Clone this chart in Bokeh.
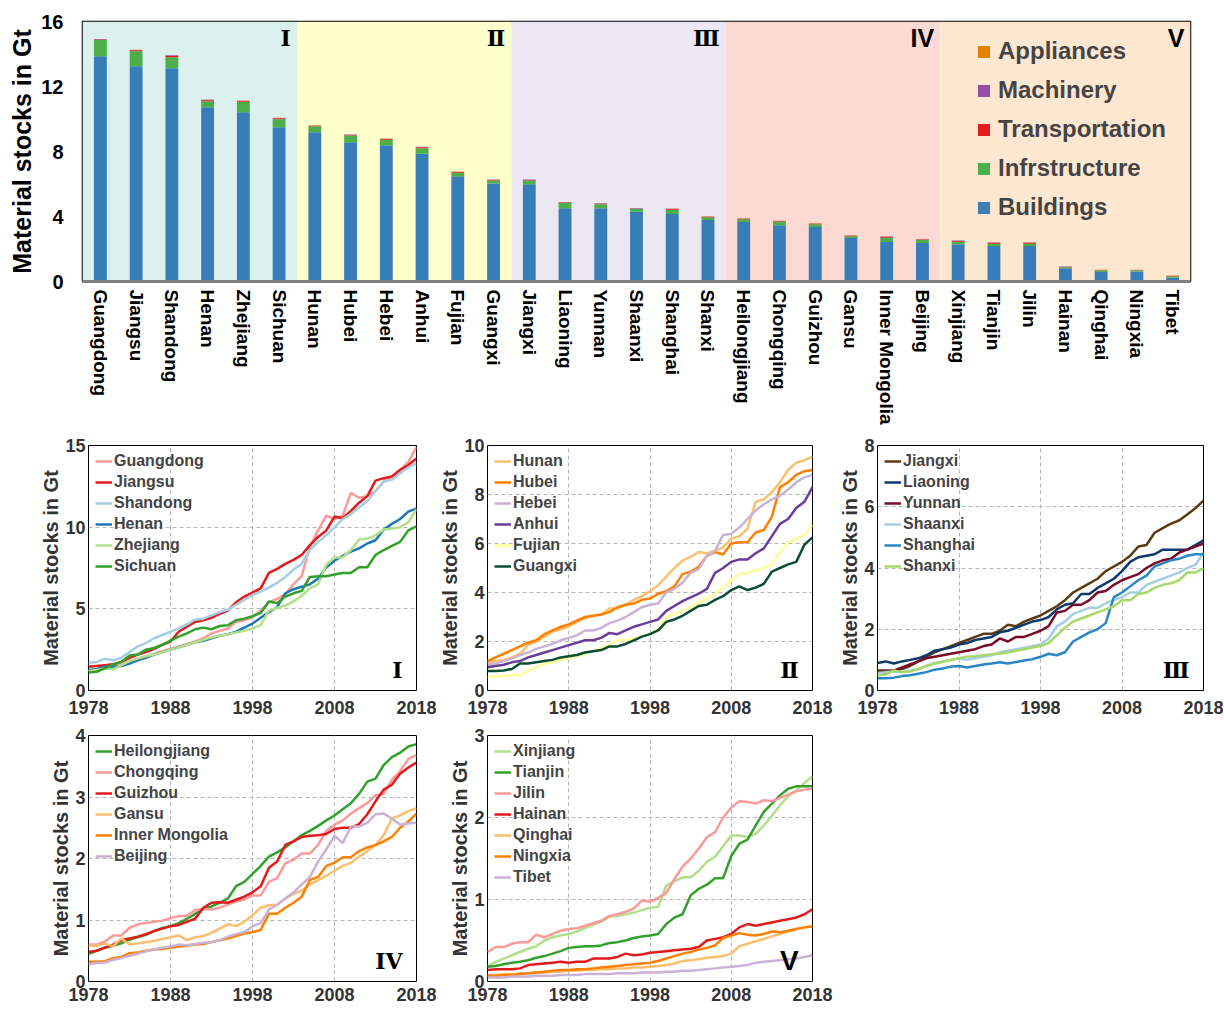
from bokeh.plotting import figure
from bokeh.models import (ColumnDataSource, FactorRange, Legend, LegendItem,
                          BoxAnnotation, Label, FixedTicker, Range1d)
from bokeh.layouts import column, row
from bokeh.embed import file_html
from bokeh.resources import INLINE

# ---------------- bar chart data ----------------
provinces = ["Guangdong", "Jiangsu", "Shandong", "Henan", "Zhejiang", "Sichuan",
             "Hunan", "Hubei", "Hebei", "Anhui", "Fujian", "Guangxi",
             "Jiangxi", "Liaoning", "Yunnan", "Shaanxi", "Shanghai", "Shanxi",
             "Heilongjiang", "Chongqing", "Guizhou", "Gansu", "Inner Mongolia", "Beijing",
             "Xinjiang", "Tianjin", "Jilin", "Hainan", "Qinghai", "Ningxia", "Tibet"]
buildings = [13.86, 13.25, 13.13, 10.73, 10.42, 9.50,
             9.19, 8.57, 8.39, 7.86, 6.48, 6.03,
             5.99, 4.51, 4.51, 4.30, 4.16, 3.79,
             3.66, 3.46, 3.35, 2.67, 2.43, 2.37,
             2.30, 2.18, 2.18, 0.82, 0.58, 0.62, 0.25]
infrastructure = [1.00, 0.92, 0.67, 0.37, 0.64, 0.49,
                  0.37, 0.41, 0.33, 0.34, 0.22, 0.19,
                  0.23, 0.33, 0.25, 0.17, 0.26, 0.16,
                  0.17, 0.22, 0.17, 0.11, 0.24, 0.18,
                  0.15, 0.15, 0.15, 0.06, 0.10, 0.06, 0.08]
transportation = [0.04, 0.06, 0.08, 0.06, 0.05, 0.05,
                  0.03, 0.04, 0.05, 0.06, 0.04, 0.03,
                  0.03, 0.03, 0.03, 0.03, 0.04, 0.03,
                  0.03, 0.03, 0.03, 0.03, 0.05, 0.03,
                  0.04, 0.04, 0.04, 0.02, 0.02, 0.02, 0.02]
machinery = [0.02, 0.02, 0.04, 0.03, 0.02, 0.02,
             0.01, 0.02, 0.02, 0.03, 0.02, 0.02,
             0.02, 0.02, 0.02, 0.02, 0.02, 0.02,
             0.02, 0.02, 0.02, 0.02, 0.05, 0.02,
             0.03, 0.03, 0.03, 0.02, 0.01, 0.01, 0.01]
appliances = [0.01] * 31
sectors = ["Buildings", "Infrstructure", "Transportation", "Machinery", "Appliances"]
sector_colors = ["#377eb8", "#4daf4a", "#e41a1c", "#984ea3", "#e38000"]
group_sizes = [6, 6, 6, 6, 7]
group_names = ["Ⅰ", "Ⅱ", "Ⅲ", "IV", "V"]
band_colors = ["#dcf0ee", "#ffffcc", "#ebe8f4", "#fdd9d3", "#fee7d0"]

# ---------------- line chart data ----------------
years = list(range(1978, 2019))

guangdong = [1.2, 1.3, 1.4, 1.45, 1.6, 1.8, 1.95, 2.1, 2.25, 2.4,
             2.55, 2.7, 2.85, 3.0, 3.2, 3.5, 3.65, 3.8, 4.2, 4.3,
             4.5, 4.9, 5.4, 5.6, 5.9, 6.5, 7.0, 8.8, 9.8, 10.7,
             10.5, 10.7, 12.1, 11.8, 11.9, 12.2, 12.8, 13.1, 13.5, 14.0,
             14.9]
jiangsu = [1.45, 1.5, 1.55, 1.6, 1.75, 2.0, 2.2, 2.35, 2.55, 2.8,
           3.0, 3.6, 3.9, 4.2, 4.3, 4.45, 4.7, 4.9, 5.4, 5.75,
           6.0, 6.25, 7.2, 7.45, 7.75, 8.0, 8.3, 8.9, 9.4, 9.8,
           10.65, 10.55, 11.0, 11.5, 11.9, 12.85, 13.0, 13.1, 13.5, 13.8,
           14.2]
shandong = [1.7, 1.75, 1.95, 1.85, 2.0, 2.35, 2.7, 2.9, 3.2, 3.4,
            3.6, 3.8, 4.05, 4.35, 4.4, 4.6, 4.8, 4.95, 5.25, 5.55,
            5.85, 6.05, 6.3, 6.6, 6.95, 7.4, 7.75, 8.6, 9.1, 9.5,
            10.0, 10.5, 10.8, 11.2, 11.6, 12.2, 12.8, 12.9, 13.3, 13.65,
            13.9]
henan = [1.25, 1.3, 1.45, 1.45, 1.5, 1.65, 1.85, 2.0, 2.2, 2.35,
         2.5, 2.65, 2.8, 2.95, 3.05, 3.2, 3.35, 3.45, 3.6, 3.85,
         4.1, 4.45, 4.8, 5.1, 5.95, 6.2, 6.35, 6.5, 6.85, 7.55,
         7.95, 8.25, 8.5, 8.7, 9.0, 9.2, 9.85, 10.2, 10.5, 10.95,
         11.15]
zhejiang = [1.2, 1.25, 1.35, 1.3, 1.55, 1.8, 1.95, 2.1, 2.2, 2.35,
            2.5, 2.65, 2.8, 2.95, 3.1, 3.25, 3.35, 3.45, 3.55, 3.65,
            3.8, 4.0, 4.9, 5.05, 5.2, 5.45, 5.8, 6.25, 6.5, 7.7,
            8.15, 8.15, 8.6, 9.25, 9.3, 9.5, 9.85, 9.9, 10.0, 10.3,
            11.1]
sichuan = [1.1, 1.15, 1.35, 1.6, 1.75, 2.15, 2.2, 2.5, 2.6, 2.8,
           3.05, 3.3, 3.5, 3.75, 3.85, 3.75, 3.95, 4.0, 4.3, 4.4,
           4.55, 4.75, 5.45, 5.35, 5.75, 5.95, 6.1, 6.95, 7.0, 7.0,
           7.1, 7.2, 7.2, 7.55, 7.55, 8.3, 8.6, 8.85, 9.1, 9.8,
           10.05]

hunan = [1.15, 1.2, 1.25, 1.35, 1.5, 1.85, 2.0, 2.2, 2.4, 2.5,
         2.6, 2.8, 2.95, 3.05, 3.1, 3.35, 3.35, 3.5, 3.7, 3.85,
         4.05, 4.3, 4.65, 5.0, 5.3, 5.45, 5.65, 5.6, 5.7, 5.85,
         6.2, 6.3, 6.6, 7.7, 7.8, 8.1, 8.5, 9.0, 9.3, 9.4,
         9.55]
hubei = [1.2, 1.35, 1.5, 1.65, 1.8, 1.95, 2.05, 2.3, 2.45, 2.6,
         2.7, 2.85, 3.0, 3.05, 3.1, 3.2, 3.4, 3.5, 3.55, 3.7,
         3.75, 3.95, 4.05, 4.25, 4.75, 4.85, 5.05, 5.5, 5.65, 5.55,
         6.0, 6.05, 6.05, 6.45, 6.55, 7.1, 8.3, 8.5, 8.8, 8.95,
         9.0]
hebei = [1.05, 1.1, 1.2, 1.3, 1.45, 1.55, 1.7, 1.8, 1.9, 2.05,
         2.15, 2.25, 2.45, 2.45, 2.55, 2.75, 2.85, 3.0, 3.2, 3.4,
         3.5, 3.55, 4.0, 4.15, 4.4, 4.8, 4.95, 5.5, 5.7, 6.35,
         6.4, 6.65, 7.0, 7.35, 7.6, 7.8, 7.95, 8.2, 8.5, 8.7,
         8.8]
anhui = [0.95, 1.0, 1.05, 1.15, 1.2, 1.35, 1.45, 1.55, 1.65, 1.75,
         1.85, 1.95, 2.05, 2.05, 2.15, 2.35, 2.3, 2.45, 2.6, 2.7,
         2.8, 2.9, 3.25, 3.45, 3.65, 3.8, 3.95, 4.15, 4.8, 5.0,
         5.25, 5.35, 5.35, 5.6, 5.8, 6.3, 6.8, 7.0, 7.45, 7.7,
         8.3]
fujian = [0.55, 0.58, 0.6, 0.62, 0.62, 0.8, 0.95, 1.1, 1.15, 1.25,
          1.3, 1.4, 1.5, 1.6, 1.75, 1.85, 2.05, 2.05, 2.1, 2.2,
          2.3, 2.5, 3.0, 3.1, 3.25, 3.4, 3.6, 3.75, 3.95, 4.2,
          4.5, 4.75, 4.8, 4.9, 5.0, 5.15, 5.65, 6.05, 6.2, 6.35,
          6.75]
guangxi = [0.8, 0.8, 0.82, 0.88, 1.1, 1.1, 1.15, 1.2, 1.25, 1.35,
           1.4, 1.45, 1.55, 1.6, 1.65, 1.8, 1.8, 1.9, 2.05, 2.2,
           2.3, 2.45, 2.8, 2.9, 3.05, 3.25, 3.45, 3.5, 3.7, 3.85,
           4.1, 4.25, 4.1, 4.2, 4.35, 4.85, 5.0, 5.15, 5.25, 5.95,
           6.25]

jiangxi = [0.65, 0.65, 0.65, 0.7, 0.8, 0.95, 1.1, 1.25, 1.35, 1.45,
           1.55, 1.65, 1.75, 1.85, 1.85, 1.95, 2.15, 2.1, 2.25, 2.35,
           2.45, 2.6, 2.75, 2.95, 3.2, 3.35, 3.5, 3.65, 3.9, 4.05,
           4.2, 4.4, 4.7, 4.75, 5.15, 5.3, 5.45, 5.55, 5.75, 5.95,
           6.2]
liaoning = [0.9, 0.95, 0.88, 0.95, 1.0, 1.05, 1.15, 1.3, 1.35, 1.4,
            1.5, 1.55, 1.65, 1.7, 1.75, 1.9, 1.95, 2.05, 2.15, 2.25,
            2.3, 2.4, 2.65, 2.8, 2.85, 3.15, 3.15, 3.35, 3.5, 3.65,
            3.9, 4.2, 4.35, 4.4, 4.45, 4.6, 4.6, 4.6, 4.6, 4.75,
            4.9]
yunnan = [0.55, 0.55, 0.65, 0.75, 0.85, 0.95, 1.05, 1.1, 1.15, 1.2,
          1.25, 1.3, 1.35, 1.45, 1.5, 1.7, 1.6, 1.75, 1.75, 1.85,
          1.95, 2.1, 2.55, 2.6, 2.8, 2.8, 2.95, 3.2, 3.25, 3.45,
          3.6, 3.7, 3.8, 4.0, 4.15, 4.25, 4.3, 4.5, 4.6, 4.7,
          4.8]
shaanxi = [0.55, 0.6, 0.62, 0.6, 0.65, 0.7, 0.8, 0.9, 0.95, 1.0,
           1.05, 1.0, 1.05, 1.1, 1.15, 1.25, 1.3, 1.35, 1.4, 1.45,
           1.5, 1.7, 2.1, 2.25, 2.5, 2.6, 2.7, 2.7, 2.85, 2.95,
           3.05, 3.2, 3.2, 3.45, 3.55, 3.65, 3.75, 3.85, 4.0, 4.1,
           4.5]
shanghai = [0.4, 0.4, 0.42, 0.47, 0.5, 0.55, 0.6, 0.68, 0.72, 0.78,
            0.8, 0.75, 0.8, 0.85, 0.88, 0.92, 0.88, 0.93, 0.98, 1.02,
            1.1, 1.2, 1.15, 1.25, 1.6, 1.75, 1.9, 2.0, 2.2, 3.05,
            3.2, 3.4, 3.6, 3.75, 4.05, 4.15, 4.25, 4.3, 4.4, 4.45,
            4.45]
shanxi = [0.5, 0.52, 0.65, 0.6, 0.62, 0.7, 0.8, 0.88, 0.93, 1.0,
          1.05, 1.1, 1.12, 1.15, 1.18, 1.2, 1.25, 1.3, 1.35, 1.4,
          1.45, 1.55, 1.8, 2.05, 2.25, 2.35, 2.45, 2.55, 2.65, 2.75,
          2.95, 2.95, 3.15, 3.2, 3.35, 3.45, 3.5, 3.6, 3.85, 3.85,
          4.0]

heilongjiang = [0.45, 0.5, 0.55, 0.58, 0.62, 0.68, 0.72, 0.76, 0.82, 0.87,
                0.9, 0.95, 1.02, 1.1, 1.18, 1.22, 1.28, 1.35, 1.55, 1.62,
                1.75, 1.88, 2.03, 2.1, 2.18, 2.28, 2.38, 2.45, 2.53, 2.62,
                2.7, 2.8, 2.9, 3.05, 3.25, 3.3, 3.52, 3.65, 3.72, 3.82,
                3.86]
chongqing = [0.6, 0.6, 0.65, 0.75, 0.75, 0.87, 0.93, 0.95, 0.97, 0.99,
             1.03, 1.06, 1.07, 1.16, 1.18, 1.17, 1.2, 1.25, 1.3, 1.33,
             1.4, 1.4, 1.62, 1.68, 1.92, 1.98, 2.08, 2.08, 2.22, 2.45,
             2.55, 2.62, 2.73, 2.82, 2.9, 3.03, 3.05, 3.28, 3.42, 3.62,
             3.68]
guizhou = [0.48, 0.5, 0.55, 0.6, 0.67, 0.7, 0.73, 0.77, 0.82, 0.86,
           0.9, 0.92, 0.97, 1.02, 1.2, 1.28, 1.29, 1.28, 1.33, 1.38,
           1.45, 1.55, 1.85, 1.95, 2.22, 2.28, 2.35, 2.37, 2.38, 2.4,
           2.48, 2.5, 2.5, 2.56, 2.72, 2.93, 3.12, 3.2, 3.38, 3.48,
           3.56]
gansu = [0.58, 0.58, 0.62, 0.57, 0.7, 0.6, 0.62, 0.64, 0.66, 0.69,
         0.72, 0.75, 0.67, 0.72, 0.74, 0.79, 0.86, 0.93, 0.9, 0.97,
         1.08, 1.2, 1.24, 1.25, 1.35, 1.42, 1.48, 1.58, 1.65, 1.72,
         1.8, 1.88, 1.93, 2.03, 2.12, 2.22, 2.38, 2.65, 2.7, 2.77,
         2.82]
inner_mongolia = [0.32, 0.32, 0.33, 0.38, 0.4, 0.46, 0.47, 0.5, 0.52, 0.53,
                  0.55, 0.57, 0.58, 0.6, 0.61, 0.64, 0.67, 0.7, 0.74, 0.78,
                  0.8, 0.84, 1.1, 1.1, 1.2, 1.28, 1.38, 1.65, 1.7, 1.88,
                  1.93, 2.02, 2.02, 2.12, 2.18, 2.22, 2.28, 2.35, 2.5, 2.6,
                  2.73]
beijing = [0.28, 0.3, 0.31, 0.35, 0.38, 0.42, 0.45, 0.49, 0.52, 0.55,
           0.57, 0.6, 0.59, 0.61, 0.63, 0.64, 0.67, 0.73, 0.77, 0.8,
           0.9, 0.95, 1.17, 1.25, 1.35, 1.45, 1.58, 1.7, 1.95, 2.15,
           2.37, 2.25, 2.52, 2.52, 2.58, 2.72, 2.73, 2.65, 2.55, 2.57,
           2.58]

xinjiang = [0.18, 0.24, 0.28, 0.32, 0.36, 0.4, 0.43, 0.5, 0.54, 0.56,
            0.58, 0.61, 0.65, 0.69, 0.73, 0.79, 0.8, 0.82, 0.84, 0.87,
            0.9, 0.91, 1.17, 1.22, 1.27, 1.27, 1.35, 1.46, 1.52, 1.65,
            1.78, 1.78, 1.76, 1.8, 1.9, 2.02, 2.15, 2.26, 2.33, 2.42,
            2.5]
tianjin = [0.18, 0.19, 0.21, 0.23, 0.24, 0.26, 0.29, 0.31, 0.34, 0.37,
           0.41, 0.42, 0.43, 0.43, 0.44, 0.47, 0.48, 0.5, 0.53, 0.55,
           0.56, 0.58, 0.7, 0.78, 0.82, 1.05, 1.13, 1.18, 1.26, 1.26,
           1.53, 1.68, 1.73, 1.9, 2.07, 2.17, 2.27, 2.35, 2.38, 2.38,
           2.38]
jilin = [0.36, 0.42, 0.42, 0.46, 0.48, 0.48, 0.57, 0.54, 0.58, 0.62,
         0.64, 0.65, 0.68, 0.71, 0.74, 0.8, 0.82, 0.85, 0.89, 0.99,
         0.97, 1.02, 1.08, 1.25, 1.4, 1.5, 1.62, 1.76, 1.82, 2.0,
         2.12, 2.2, 2.19, 2.17, 2.21, 2.2, 2.24, 2.28, 2.32, 2.34,
         2.35]
hainan = [0.14, 0.15, 0.15, 0.15, 0.16, 0.2, 0.21, 0.22, 0.23, 0.24,
          0.23, 0.24, 0.24, 0.28, 0.28, 0.28, 0.3, 0.34, 0.32, 0.33,
          0.35, 0.36, 0.37, 0.38, 0.39, 0.4, 0.42, 0.5, 0.52, 0.54,
          0.58, 0.66, 0.7, 0.68, 0.7, 0.72, 0.74, 0.76, 0.78, 0.82,
          0.88]
qinghai = [0.08, 0.08, 0.09, 0.09, 0.1, 0.1, 0.11, 0.11, 0.12, 0.12,
           0.13, 0.13, 0.14, 0.14, 0.15, 0.15, 0.16, 0.16, 0.17, 0.17,
           0.18, 0.19, 0.2, 0.22, 0.25, 0.26, 0.27, 0.29, 0.3, 0.31,
           0.34, 0.43, 0.46, 0.49, 0.52, 0.55, 0.58, 0.61, 0.64, 0.66,
           0.68]
ningxia = [0.07, 0.07, 0.08, 0.08, 0.09, 0.1, 0.11, 0.12, 0.13, 0.14,
           0.14, 0.15, 0.15, 0.16, 0.17, 0.18, 0.19, 0.2, 0.21, 0.22,
           0.23, 0.25, 0.28, 0.31, 0.34, 0.36, 0.39, 0.41, 0.44, 0.53,
           0.56, 0.59, 0.57, 0.56, 0.58, 0.61, 0.6, 0.62, 0.64, 0.66,
           0.67]
tibet = [0.05, 0.05, 0.05, 0.06, 0.06, 0.06, 0.07, 0.07, 0.07, 0.08,
         0.08, 0.08, 0.09, 0.09, 0.09, 0.09, 0.1, 0.1, 0.1, 0.11,
         0.11, 0.11, 0.12, 0.12, 0.13, 0.13, 0.14, 0.15, 0.16, 0.17,
         0.18, 0.19, 0.2, 0.23, 0.24, 0.25, 0.26, 0.27, 0.28, 0.3,
         0.32]

panels = [
    dict(names=["Guangdong", "Jiangsu", "Shandong", "Henan", "Zhejiang", "Sichuan"],
         series=[guangdong, jiangsu, shandong, henan, zhejiang, sichuan],
         colors=["#fb9a99", "#e31a1c", "#a6cee3", "#1f78b4", "#b2df8a", "#33a02c"],
         ymax=15, yticks=[0, 5, 10, 15], roman="Ⅰ"),
    dict(names=["Hunan", "Hubei", "Hebei", "Anhui", "Fujian", "Guangxi"],
         series=[hunan, hubei, hebei, anhui, fujian, guangxi],
         colors=["#fdbf6f", "#ff7f00", "#cab2d6", "#6a3d9a", "#ffff99", "#0a4d33"],
         ymax=10, yticks=[0, 2, 4, 6, 8, 10], roman="Ⅱ"),
    dict(names=["Jiangxi", "Liaoning", "Yunnan", "Shaanxi", "Shanghai", "Shanxi"],
         series=[jiangxi, liaoning, yunnan, shaanxi, shanghai, shanxi],
         colors=["#5b3a14", "#0d3a6b", "#7a0a2a", "#a6cee3", "#2b86c5", "#a6d96a"],
         ymax=8, yticks=[0, 2, 4, 6, 8], roman="Ⅲ"),
    dict(names=["Heilongjiang", "Chongqing", "Guizhou", "Gansu", "Inner Mongolia", "Beijing"],
         series=[heilongjiang, chongqing, guizhou, gansu, inner_mongolia, beijing],
         colors=["#33a02c", "#fb9a99", "#e31a1c", "#fdbf6f", "#ff7f00", "#cab2d6"],
         ymax=4, yticks=[0, 1, 2, 3, 4], roman="IV"),
    dict(names=["Xinjiang", "Tianjin", "Jilin", "Hainan", "Qinghai", "Ningxia", "Tibet"],
         series=[xinjiang, tianjin, jilin, hainan, qinghai, ningxia, tibet],
         colors=["#b2df8a", "#33a02c", "#fb9a99", "#e31a1c", "#fdbf6f", "#ff7f00", "#cab2d6"],
         ymax=3, yticks=[0, 1, 2, 3], roman="V"),
]
xticks = [1978, 1988, 1998, 2008, 2018]

FONT = "Liberation Sans"
SERIF = "DejaVu Serif"

# ---------------- top bar chart ----------------
src = ColumnDataSource(dict(province=provinces, Buildings=buildings,
                            Infrstructure=infrastructure, Transportation=transportation,
                            Machinery=machinery, Appliances=appliances))

top = figure(x_range=FactorRange(*provinces), y_range=Range1d(0, 16),
             frame_width=1108, frame_height=260,
             min_border_left=82, min_border_right=14, min_border_top=21, min_border_bottom=150,
             output_backend="svg", toolbar_location=None)

start = 0
for size, name, col in zip(group_sizes, group_names, band_colors):
    top.add_layout(BoxAnnotation(left=start, right=start + size, fill_color=col,
                                 fill_alpha=1.0, line_color=None, level="underlay"))
    serif = name in ("Ⅰ", "Ⅱ", "Ⅲ")
    top.add_layout(Label(x=start + size - 0.17, y=15.0, text=name, text_align="right",
                         text_baseline="middle", text_font=SERIF if serif else FONT,
                         text_font_style="bold", text_font_size="22px" if serif else "25px",
                         text_color="black"))
    start += size

rs = top.vbar_stack(sectors, x="province", width=0.36, color=sector_colors,
                    line_color=None, source=src)
items = [LegendItem(label=s, renderers=[r]) for s, r in zip(sectors, rs)][::-1]
leg = Legend(items=items, location=(889, 55), padding=5, margin=0,
             glyph_width=15, glyph_height=15, label_standoff=7, spacing=11,
             label_text_font=FONT, label_text_font_style="bold",
             label_text_font_size="24px", background_fill_alpha=0, border_line_alpha=0)
top.add_layout(leg)

top.xgrid.grid_line_color = None
top.ygrid.grid_line_color = None
top.outline_line_color = "black"
top.outline_line_width = 1.5
top.yaxis.ticker = FixedTicker(ticks=[0, 4, 8, 12, 16])
top.yaxis.axis_label = "Material stocks in Gt"
top.yaxis.axis_label_text_font = FONT
top.yaxis.axis_label_text_font_style = "bold"
top.yaxis.axis_label_text_font_size = "25px"
top.yaxis.axis_label_text_color = "black"
top.yaxis.axis_label_standoff = 2
top.yaxis.major_label_standoff = 19
top.xaxis.major_label_standoff = 8
top.xaxis.major_label_orientation = "vertical"
for ax in (top.xaxis, top.yaxis):
    ax.major_label_text_font = FONT
    ax.major_label_text_font_style = "bold"
    ax.major_label_text_color = "black"
    ax.major_tick_line_color = None
    ax.minor_tick_line_color = None
    ax.major_tick_out = 0
    ax.major_tick_in = 0
    ax.minor_tick_out = 0
    ax.minor_tick_in = 0
top.yaxis.major_label_text_font_size = "20px"
top.xaxis.major_label_text_font_size = "19px"
top.yaxis.axis_line_color = None
top.xaxis.axis_line_color = "#808080"
top.xaxis.axis_line_width = 3


# ---------------- line panels ----------------
def make_panel(cfg, bl, br, bt, bb, fw, fh, xstd):
    p = figure(x_range=Range1d(1978, 2018), y_range=Range1d(0, cfg["ymax"]),
               frame_width=fw, frame_height=fh,
               min_border_left=bl, min_border_right=br, min_border_top=bt, min_border_bottom=bb,
               output_backend="svg", toolbar_location=None)
    its = []
    for n, s, c in zip(cfg["names"], cfg["series"], cfg["colors"]):
        r = p.line(years, s, line_color=c, line_width=2.5)
        its.append(LegendItem(label=n, renderers=[r]))
    lg = Legend(items=its, location="top_left", padding=7, margin=0,
                glyph_width=17, glyph_height=18, label_height=18, spacing=3,
                label_standoff=2, label_text_font=FONT, label_text_font_style="bold",
                label_text_font_size="16px", background_fill_alpha=0, border_line_alpha=0)
    p.add_layout(lg)
    p.xaxis.ticker = FixedTicker(ticks=xticks)
    p.yaxis.ticker = FixedTicker(ticks=cfg["yticks"])
    for g in (p.xgrid, p.ygrid):
        g.grid_line_color = "#b5b5b5"
        g.grid_line_dash = "4 3"
        g.grid_line_width = 1
    p.outline_line_color = "black"
    p.outline_line_width = 1
    for ax in (p.xaxis, p.yaxis):
        ax.axis_line_color = None
        ax.major_tick_line_color = None
        ax.minor_tick_line_color = None
        ax.major_tick_out = 0
        ax.major_tick_in = 0
        ax.minor_tick_out = 0
        ax.minor_tick_in = 0
        ax.major_label_text_font = FONT
        ax.major_label_text_font_style = "bold"
        ax.major_label_text_font_size = "18px"
        ax.major_label_text_color = "#333333"
    p.yaxis.major_label_standoff = 3
    p.xaxis.major_label_standoff = xstd
    p.yaxis.axis_label = "Material stocks in Gt"
    p.yaxis.axis_label_text_font = FONT
    p.yaxis.axis_label_text_font_style = "bold"
    p.yaxis.axis_label_text_font_size = "20px"
    p.yaxis.axis_label_text_color = "#333333"
    p.yaxis.axis_label_standoff = 0
    rom = cfg["roman"]
    serif = rom in ("Ⅰ", "Ⅱ", "Ⅲ", "IV")
    p.add_layout(Label(x=2016.3, y=cfg["ymax"] * 0.085, text=rom, text_align="right",
                       text_baseline="middle",
                       text_font=SERIF if serif else FONT,
                       text_font_style="bold", text_font_size="22px" if serif else "28px",
                       text_color="black"))
    return p


p1 = make_panel(panels[0], 88, 20, 14, 28, 328, 245, 10)
p2 = make_panel(panels[1], 51, 21, 14, 28, 325, 245, 10)
p3 = make_panel(panels[2], 44, 20, 14, 28, 326, 245, 10)
p4 = make_panel(panels[3], 88, 20, 17, 27, 328, 246, 6)
p5 = make_panel(panels[4], 51, 21, 17, 27, 325, 246, 6)

layout = column(top, row(p1, p2, p3), row(p4, p5))
open("out.html", "w").write(file_html(layout, INLINE))
